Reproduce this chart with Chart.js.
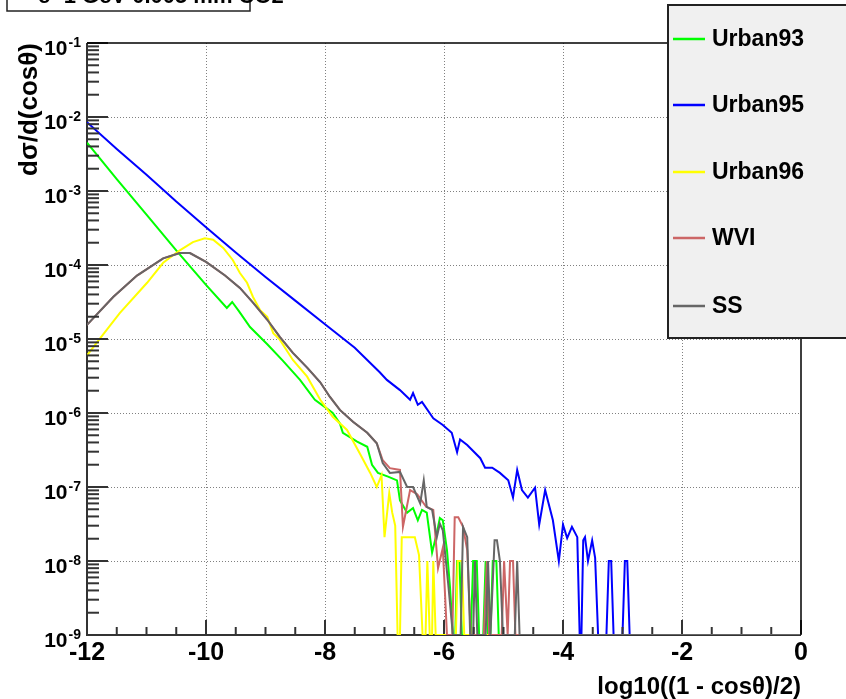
<!DOCTYPE html>
<html>
<head>
<meta charset="utf-8">
<script src="https://cdn.jsdelivr.net/npm/chart.js@4.4.0/dist/chart.umd.min.js"></script>
<style>
  html, body { margin: 0; padding: 0; background: #fff; }
</style>
</head>
<body>
<canvas id="c" width="846" height="699"></canvas>
<script>
// legend / series
const seriesNames = ['Urban93', 'Urban95', 'Urban96', 'WVI', 'SS'];
const seriesColors = ['#00ff00', '#0000ff', '#ffff00', '#cc6666', '#666666'];

const titleText = 'e- 1 GeV 0.005 mm CO2';
const xTitle = 'log10((1 - cos\u03b8)/2)';
const yTitle = 'd\u03c3/d(cos\u03b8)';

const xTickValues = [-12, -10, -8, -6, -4, -2, 0];
const yTickExponents = [-1, -2, -3, -4, -5, -6, -7, -8, -9];

// Urban93 (green); 0 = empty bin
const u93X = [-12, -11.5, -11, -10.5, -10, -9.65, -9.56, -9.45, -9.26, -8.97, -8.71, -8.42, -8.17, -8.00, -7.87, -7.75, -7.70, -7.46, -7.29, -7.21, -7.11, -6.94, -6.79, -6.74, -6.62, -6.52, -6.44, -6.37, -6.29, -6.20, -6.12, -6.07, -6.02, -5.95, -5.90, -5.85, -5.81, -5.78, -5.74, -5.70, -5.55, -5.51, -5.45, -5.41, -5.34, -5.30, -5.26, -5.22, -5.18, -5.12, -5.08, 0];
const u93Y = [4.5e-3, 1.45e-3, 4.8e-4, 1.58e-4, 5.4e-5, 2.63e-5, 3.16e-5, 2.4e-5, 1.45e-5, 8.5e-6, 5.1e-6, 2.8e-6, 1.51e-6, 1.2e-6, 1e-6, 7.2e-7, 5.4e-7, 4.1e-7, 3.5e-7, 2.0e-7, 1.55e-7, 1.38e-7, 1.23e-7, 6.6e-8, 4.5e-8, 5.2e-8, 3.55e-8, 4.9e-8, 4.5e-8, 1.3e-8, 2.4e-8, 3.8e-8, 3.55e-8, 1.4e-8, 4.5e-9, 0, 0, 1e-8, 1e-8, 0, 0, 1e-8, 1e-8, 0, 0, 1e-8, 0, 0, 1e-8, 1e-8, 0, 0];

// Urban95 (blue)
const u95X = [-12, -11.5, -11, -10.5, -10, -9.5, -9, -8.5, -8, -7.5, -7.08, -6.96, -6.74, -6.57, -6.52, -6.44, -6.37, -6.18, -6.02, -5.87, -5.78, -5.73, -5.61, -5.39, -5.31, -5.19, -5.06, -4.92, -4.84, -4.77, -4.69, -4.59, -4.47, -4.40, -4.30, -4.17, -4.07, -4.00, -3.93, -3.85, -3.76, -3.72, -3.69, -3.66, -3.63, -3.58, -3.51, -3.46, -3.41, -3.27, -3.23, -3.19, -3.15, -3.00, -2.96, -2.92, -2.88, 0];
const u95Y = [8.5e-3, 3.7e-3, 1.66e-3, 7.2e-4, 3.24e-4, 1.48e-4, 6.9e-5, 3.3e-5, 1.58e-5, 7.6e-6, 3.55e-6, 2.8e-6, 2.04e-6, 1.51e-6, 1.86e-6, 1.29e-6, 1.41e-6, 8.5e-7, 6.9e-7, 5.4e-7, 2.95e-7, 4.4e-7, 3.7e-7, 2.45e-7, 1.82e-7, 1.82e-7, 1.55e-7, 1.23e-7, 7.2e-8, 1.7e-7, 9.1e-8, 7.2e-8, 9.8e-8, 3.1e-8, 9.1e-8, 3.55e-8, 1e-8, 3.1e-8, 2.04e-8, 2.9e-8, 2.1e-8, 0, 0, 1.9e-8, 2.1e-8, 1e-8, 1.9e-8, 1.1e-8, 0, 0, 1e-8, 1e-8, 0, 0, 1e-8, 1e-8, 0, 0];

// Urban96 (yellow)
const u96X = [-12, -11.78, -11.45, -10.99, -10.72, -10.44, -10.22, -10.02, -9.88, -9.71, -9.55, -9.43, -9.31, -9.21, -9.09, -8.97, -8.87, -8.76, -8.54, -8.30, -8.08, -7.87, -7.63, -7.41, -7.24, -7.13, -7.05, -7.00, -6.92, -6.87, -6.82, -6.78, -6.74, -6.71, -6.62, -6.52, -6.49, -6.42, -6.36, -6.31, -6.28, -6.24, -6.20, -6.18, -6.14, -5.80, -5.77, -5.70, -5.66, 0];
const u96Y = [6.0e-6, 1.02e-5, 2.24e-5, 5.75e-5, 1.07e-4, 1.58e-4, 2.04e-4, 2.3e-4, 2.2e-4, 1.7e-4, 1.17e-4, 7.8e-5, 5.75e-5, 3.7e-5, 2.45e-5, 2.0e-5, 1.2e-5, 9.8e-6, 5.2e-6, 3.1e-6, 1.51e-6, 8.9e-7, 5.9e-7, 2.8e-7, 1.55e-7, 1.0e-7, 1.45e-7, 2.1e-8, 8.3e-8, 4.5e-8, 3.0e-8, 0, 0, 2.1e-8, 2.1e-8, 2.1e-8, 2.1e-8, 1.2e-8, 0, 0, 1e-8, 0, 0, 1e-8, 0, 0, 1e-8, 1e-8, 0, 0];

// WVI (red)
const wviX = [-12, -11.56, -11.16, -10.72, -10.44, -10.27, -10.00, -9.68, -9.43, -9.21, -8.97, -8.76, -8.54, -8.30, -8.08, -7.92, -7.75, -7.53, -7.29, -7.13, -7.03, -6.91, -6.74, -6.69, -6.57, -6.45, -6.30, -6.18, -6.10, -6.02, -5.95, -5.86, -5.82, -5.76, -5.68, -5.61, -5.55, -5.33, -5.28, -5.24, -5.03, -4.99, -4.93, -4.89, -4.84, -4.80, 0];
const wviY = [1.55e-5, 3.7e-5, 7.2e-5, 1.23e-4, 1.45e-4, 1.45e-4, 1.1e-4, 7.2e-5, 4.9e-5, 3.1e-5, 1.82e-5, 1.07e-5, 6.5e-6, 4.1e-6, 2.6e-6, 1.66e-6, 1.1e-6, 7.6e-7, 5.4e-7, 3.9e-7, 2.3e-7, 1.8e-7, 1.7e-7, 2.9e-8, 9.1e-8, 8e-8, 5.4e-8, 4.9e-8, 8e-9, 1.5e-8, 0, 0, 3.9e-8, 3.9e-8, 2.9e-8, 1.4e-8, 0, 0, 1e-8, 0, 0, 1e-8, 0, 1e-8, 1e-8, 0, 0];

// SS (grey)
const ssX = [-12, -11.56, -11.16, -10.72, -10.44, -10.27, -10.00, -9.68, -9.43, -9.21, -8.97, -8.76, -8.54, -8.30, -8.08, -7.92, -7.75, -7.53, -7.29, -7.13, -7.03, -6.91, -6.74, -6.62, -6.52, -6.40, -6.34, -6.29, -6.20, -6.12, -6.07, -6.02, -5.93, -5.85, -5.72, -5.68, -5.61, -5.56, -5.51, -5.48, -5.44, -5.30, -5.26, -5.22, -5.15, -5.11, -5.06, -5.01, -4.81, -4.77, -4.73, 0];
const ssY = [1.55e-5, 3.7e-5, 7.2e-5, 1.23e-4, 1.45e-4, 1.45e-4, 1.1e-4, 7.2e-5, 4.9e-5, 3.1e-5, 1.82e-5, 1.07e-5, 6.5e-6, 4.1e-6, 2.6e-6, 1.66e-6, 1.1e-6, 7.6e-7, 5.4e-7, 3.9e-7, 2.1e-7, 1.55e-7, 1.6e-7, 1e-7, 1e-7, 6e-8, 1.23e-7, 5.4e-8, 4.9e-8, 2.1e-8, 3.2e-8, 2.6e-8, 5e-9, 0, 0, 2.9e-8, 2.1e-8, 0, 0, 1e-8, 0, 0, 1e-8, 0, 1.9e-8, 1.9e-8, 1e-8, 0, 0, 1e-8, 0, 0];

const Y_MIN = 1e-9;
const Y_MAX = 1e-1;

const allX = [u93X, u95X, u96X, wviX, ssX];
const allY = [u93Y, u95Y, u96Y, wviY, ssY];

const FONT = '"Liberation Sans", Arial, sans-serif';

// empty bins sit on the frame floor, like ROOT draws them
const toPoints = (xs, ys) => xs.map((x, i) => ({ x: x, y: ys[i] > 0 ? ys[i] : Y_MIN }));

const datasets = seriesNames.map((name, i) => ({
  label: name,
  data: toPoints(allX[i], allY[i]),
  borderColor: seriesColors[i],
  borderWidth: 2,
  pointRadius: 0,
  tension: 0,
  fill: false,
  order: seriesNames.length - 1 - i   // SS ends up on top
}));

const rootLook = {
  id: 'rootLook',
  beforeDatasetsDraw(chart) {
    const { ctx, chartArea: a, scales: { x, y } } = chart;
    ctx.save();
    ctx.strokeStyle = '#808080';
    ctx.lineWidth = 1;
    ctx.setLineDash([1, 2]);
    xTickValues.forEach(v => {
      if (v === -12 || v === 0) return;
      const px = Math.round(x.getPixelForValue(v)) + 0.5;
      ctx.beginPath(); ctx.moveTo(px, a.top); ctx.lineTo(px, a.bottom); ctx.stroke();
    });
    yTickExponents.forEach(e => {
      if (e === -1 || e === -9) return;
      const py = Math.round(y.getPixelForValue(Math.pow(10, e))) + 0.5;
      ctx.beginPath(); ctx.moveTo(a.left, py); ctx.lineTo(a.right, py); ctx.stroke();
    });
    ctx.setLineDash([]);
    // axes go under the data, so empty bins show along the floor
    ctx.strokeStyle = '#333';
    ctx.lineWidth = 2;
    ctx.beginPath();
    ctx.moveTo(a.left, a.top); ctx.lineTo(a.left, a.bottom); ctx.lineTo(a.right, a.bottom);
    ctx.stroke();
    ctx.restore();
  },
  afterDatasetsDraw(chart) {
    const { ctx, chartArea: a, scales: { x, y } } = chart;
    ctx.save();
    // ticks inside the frame
    ctx.strokeStyle = '#333';
    ctx.lineWidth = 2;
    for (let e = -9; e <= -1; e++) {
      const py = y.getPixelForValue(Math.pow(10, e));
      ctx.beginPath(); ctx.moveTo(a.left, py); ctx.lineTo(a.left + 21, py); ctx.stroke();
      if (e === -1) continue;
      for (let m = 2; m <= 9; m++) {
        const pm = y.getPixelForValue(m * Math.pow(10, e));
        ctx.beginPath(); ctx.moveTo(a.left, pm); ctx.lineTo(a.left + 12, pm); ctx.stroke();
      }
    }
    for (let v = -12; v <= 0; v += 0.5) {
      const px = x.getPixelForValue(v);
      const len = xTickValues.includes(v) ? 15 : 8;
      ctx.beginPath(); ctx.moveTo(px, a.bottom - 1); ctx.lineTo(px, a.bottom - len); ctx.stroke();
    }
    // top and right frame
    ctx.strokeStyle = '#000';
    ctx.lineWidth = 1.5;
    ctx.beginPath();
    ctx.moveTo(a.left, a.top); ctx.lineTo(a.right, a.top); ctx.lineTo(a.right, a.bottom);
    ctx.stroke();

    // y tick labels 10^n
    ctx.fillStyle = '#000';
    ctx.textBaseline = 'alphabetic';
    yTickExponents.forEach(e => {
      const py = y.getPixelForValue(Math.pow(10, e));
      const sup = String(e);
      ctx.font = 'bold 14px ' + FONT;
      const supW = ctx.measureText(sup).width;
      ctx.textAlign = 'right';
      ctx.fillText(sup, 81, py + 4);
      ctx.font = 'bold 21px ' + FONT;
      ctx.fillText('10', 81 - supW - 1, py + 12);
    });

    // axis titles
    ctx.font = 'bold 24px ' + FONT;
    ctx.textAlign = 'right';
    ctx.fillText(xTitle, a.right, 694);
    ctx.save();
    ctx.translate(37, a.top);
    ctx.rotate(-Math.PI / 2);
    ctx.font = 'bold 26px ' + FONT;
    ctx.textAlign = 'right';
    ctx.fillText(yTitle, 0, 0);
    ctx.restore();
    ctx.restore();
  },
  afterDraw(chart) {
    const { ctx } = chart;
    ctx.save();
    // legend box
    ctx.fillStyle = '#f0f0f0';
    ctx.fillRect(668, 5, 190, 333);
    ctx.strokeStyle = '#222';
    ctx.lineWidth = 2;
    ctx.strokeRect(668, 5, 190, 333);
    const rowY = [39, 105, 172, 238, 306];
    ctx.font = 'bold 23px ' + FONT;
    ctx.textAlign = 'left';
    ctx.textBaseline = 'middle';
    seriesNames.forEach((name, i) => {
      ctx.strokeStyle = seriesColors[i];
      ctx.lineWidth = 2.5;
      ctx.beginPath(); ctx.moveTo(673, rowY[i]); ctx.lineTo(705, rowY[i]); ctx.stroke();
      ctx.fillStyle = '#000';
      ctx.fillText(name, 712, rowY[i] + 1);
    });
    // title box, mostly cut off at the top
    ctx.fillStyle = '#fff';
    ctx.fillRect(7, -10, 243, 21);
    ctx.strokeStyle = '#222';
    ctx.lineWidth = 1.5;
    ctx.strokeRect(7, -10, 243, 21);
    ctx.fillStyle = '#000';
    ctx.font = 'bold 22px ' + FONT;
    ctx.textBaseline = 'alphabetic';
    ctx.fillText(titleText, 38, 3);
    ctx.restore();
  }
};

new Chart(document.getElementById('c'), {
  type: 'line',
  data: { datasets: datasets },
  options: {
    responsive: false,
    devicePixelRatio: 1,
    animation: false,
    layout: { padding: { top: 43, right: 45, left: 0, bottom: 0 } },
    plugins: { legend: { display: false }, tooltip: { enabled: false } },
    scales: {
      x: {
        type: 'linear',
        min: -12,
        max: 0,
        afterBuildTicks: s => { s.ticks = xTickValues.map(v => ({ value: v })); },
        afterFit: s => { s.height = 64; },
        grid: { display: false, drawTicks: false },
        border: { display: false },
        ticks: {
          color: '#000',
          padding: 3,
          maxRotation: 0,
          font: { family: FONT, size: 25, weight: 'bold' }
        }
      },
      y: {
        type: 'logarithmic',
        min: Y_MIN,
        max: Y_MAX,
        afterBuildTicks: s => { s.ticks = yTickExponents.map(e => ({ value: Math.pow(10, e) })); },
        afterFit: s => { s.width = 87; },
        grid: { display: false, drawTicks: false },
        border: { display: false },
        ticks: { display: false }
      }
    }
  },
  plugins: [rootLook]
});
</script>
</body>
</html>
